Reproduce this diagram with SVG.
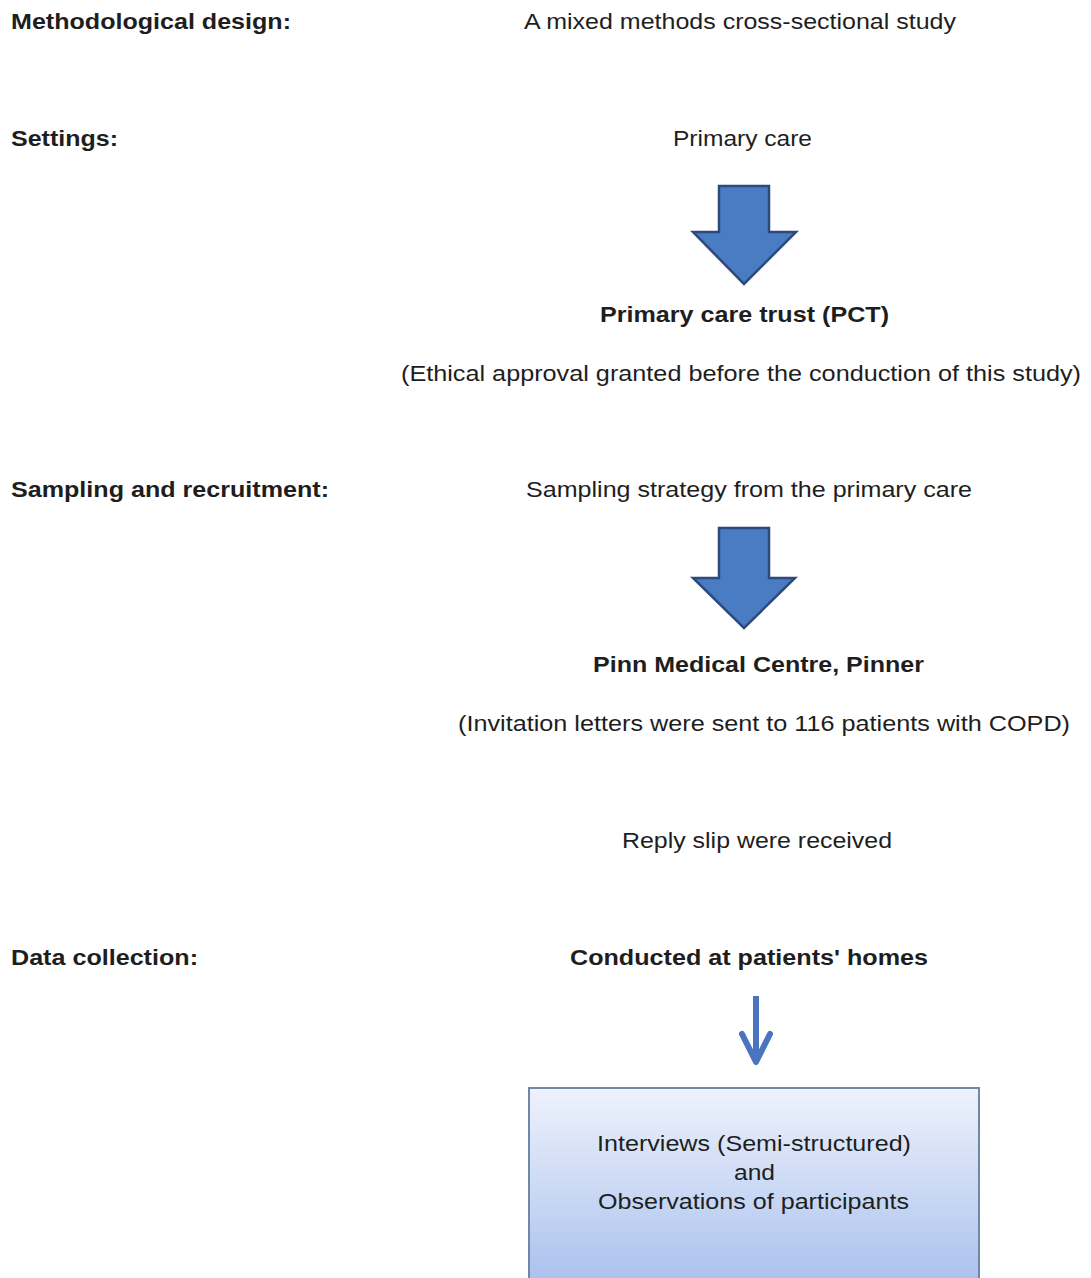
<svg xmlns="http://www.w3.org/2000/svg" width="1091" height="1278" viewBox="0 0 1091 1278">
<style>
text{font-family:"Liberation Sans",Arial,sans-serif;font-size:22px;fill:#1e1e1e}
.b{font-weight:bold}
.big{fill:#4a7cc3;stroke:#2c4a7e;stroke-width:2.5;stroke-linejoin:miter}
</style>
<defs>
<linearGradient id="g" x1="0" y1="0" x2="0" y2="1">
<stop offset="0" stop-color="#eef2fb"/>
<stop offset="1" stop-color="#a8c0ee"/>
</linearGradient>
</defs>
<rect width="1091" height="1278" fill="#fff"/>
<g id="labels">
<text class="b" x="11" y="29" textLength="280" lengthAdjust="spacingAndGlyphs">Methodological design:</text>
<text class="b" x="11" y="146" textLength="107" lengthAdjust="spacingAndGlyphs">Settings:</text>
<text class="b" x="11" y="497" textLength="318" lengthAdjust="spacingAndGlyphs">Sampling and recruitment:</text>
<text class="b" x="11" y="965" textLength="187" lengthAdjust="spacingAndGlyphs">Data collection:</text>
</g>
<g id="n1"><text x="524" y="29" textLength="432" lengthAdjust="spacingAndGlyphs">A mixed methods cross-sectional study</text></g>
<g id="n2"><text x="673" y="146" textLength="139" lengthAdjust="spacingAndGlyphs">Primary care</text></g>
<g id="n3"><text class="b" x="600" y="322" textLength="289" lengthAdjust="spacingAndGlyphs">Primary care trust (PCT)</text>
<text x="401" y="381" textLength="680" lengthAdjust="spacingAndGlyphs">(Ethical approval granted before the conduction of this study)</text></g>
<g id="n4"><text x="526" y="497" textLength="446" lengthAdjust="spacingAndGlyphs">Sampling strategy from the primary care</text></g>
<g id="n5"><text class="b" x="593" y="672" textLength="331" lengthAdjust="spacingAndGlyphs">Pinn Medical Centre, Pinner</text>
<text x="458" y="731" textLength="612" lengthAdjust="spacingAndGlyphs">(Invitation letters were sent to 116 patients with COPD)</text></g>
<g id="n6"><text x="622" y="848" textLength="270" lengthAdjust="spacingAndGlyphs">Reply slip were received</text></g>
<g id="n7"><text class="b" x="570" y="965" textLength="358" lengthAdjust="spacingAndGlyphs">Conducted at patients' homes</text></g>
<g id="n8"><rect x="529" y="1088" width="450" height="200" fill="url(#g)" stroke="#7087a6" stroke-width="2"/>
<text x="597" y="1151" textLength="314" lengthAdjust="spacingAndGlyphs">Interviews (Semi-structured)</text>
<text x="734" y="1180" textLength="41" lengthAdjust="spacingAndGlyphs">and</text>
<text x="598" y="1209" textLength="311" lengthAdjust="spacingAndGlyphs">Observations of participants</text></g>
<g id="connectors">
<path class="big" d="M719,186 H769 V232 H796 L744,284 L693,232 H719 Z"/>
<path class="big" d="M719,528 H769 V578 H795 L744,628 L693,578 H719 Z"/>
<line x1="756" y1="996" x2="756" y2="1058" stroke="#4a74c0" stroke-width="6"/>
<path d="M742,1034 L756,1062 L770,1034" fill="none" stroke="#4a74c0" stroke-width="6" stroke-linecap="round" stroke-linejoin="round"/>
</g>
</svg>
